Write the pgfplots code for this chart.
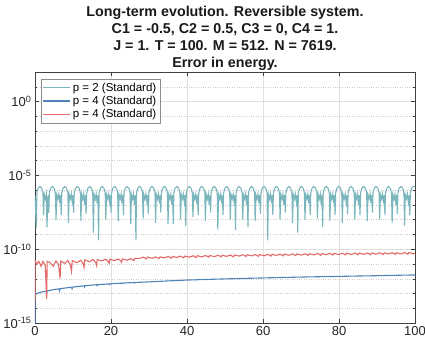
\documentclass[border=0pt]{standalone}
\usepackage{pgfplots}
\pgfplotsset{compat=1.18}
\usepackage{fontspec}
\setmainfont{Liberation Sans}
\definecolor{cteal}{RGB}{122,182,188}
\definecolor{cblue}{RGB}{78,132,186}
\definecolor{cred}{RGB}{228,106,106}
\begin{document}
\begin{tikzpicture}
\begin{axis}[
 scale only axis, width=380pt, height=251pt,
 ymode=log, xmin=0, xmax=100, ymin=1e-15, ymax=1e2,
 xtick={0,20,40,60,80,100},
 ytick={1e-15,1e-10,1e-5,1},
 yticklabels={10\textsuperscript{-15},10\textsuperscript{-10},10\textsuperscript{-5},10\textsuperscript{0}},
 minor ytick={1e-14,1e-13,1e-12,1e-11,1e-9,1e-8,1e-7,1e-6,1e-4,1e-3,1e-2,1e-1,1e1},
 grid=both,
 major grid style={solid, black!12},
 minor grid style={dotted, black!20},
 axis line style={black!75}, every tick/.style={black!75},
 tick align=inside, major tick length=4pt, minor tick length=2.5pt,
 ticklabel style={font=\fontsize{13}{15}\selectfont, text=black!85},
 /pgf/number format/assume math mode=true,
 title={Long-term evolution. Reversible system.\\C1 = -0.5, C2 = 0.5, C3 = 0, C4 = 1.\\J = 1. T = 100. M = 512. N = 7619.\\Error in energy.},
 title style={align=center, font=\bfseries\fontsize{14.3}{17}\selectfont, text=black!90, yshift=-8pt},
 legend style={at={(0.016,0.972)}, anchor=north west, draw=black!45, fill=white,
   font=\fontsize{11.5}{13}\selectfont, inner sep=1.5pt, row sep=-0.5pt},
 legend cell align=left,
 legend image code/.code={\draw[#1] (0pt,0pt) -- (27pt,0pt);},
]
\addplot[cteal, line width=1.1pt] table {
x y
0 4e-7
0.35 3e-9
0.50 6.3e-7
0.80 1.3e-6
1.30 1.8e-6
1.80 1.3e-6
2.10 6.3e-7
2.25 2e-8
2.45 5e-7
2.75 2.5e-7
3.00 5.5e-7
3.15 3e-9
3.45 4.5e-7
3.63 3e-8
3.78 6.3e-7
4.08 1.3e-6
4.58 1.8e-6
5.08 1.3e-6
5.38 6.3e-7
5.53 1e-8
5.73 5e-7
6.03 2.5e-7
6.28 5.5e-7
6.53 1.3e-7
6.73 4.5e-7
6.90 2e-8
7.05 6.3e-7
7.35 1.3e-6
7.85 1.8e-6
8.35 1.3e-6
8.65 6.3e-7
8.80 6e-9
9.00 5e-7
9.30 2.5e-7
9.55 5.5e-7
9.80 1.6e-7
10.00 4.5e-7
10.18 3e-8
10.33 6.3e-7
10.63 1.3e-6
11.13 1.8e-6
11.63 1.3e-6
11.93 6.3e-7
12.08 8e-9
12.28 5e-7
12.58 2.5e-7
12.83 5.5e-7
13.08 1e-7
13.28 4.5e-7
13.45 2.5e-8
13.60 6.3e-7
13.90 1.3e-6
14.40 1.8e-6
14.90 1.3e-6
15.20 6.3e-7
15.35 1.3e-9
15.55 5e-7
15.85 2.5e-7
16.10 5.5e-7
16.35 1.3e-7
16.55 4.5e-7
16.73 4e-10
16.88 6.3e-7
17.18 1.3e-6
17.68 1.8e-6
18.18 1.3e-6
18.48 6.3e-7
18.63 1e-8
18.83 5e-7
19.13 2.5e-7
19.38 5.5e-7
19.63 1.6e-7
19.83 4.5e-7
20.01 3e-8
20.16 6.3e-7
20.46 1.3e-6
20.96 1.8e-6
21.46 1.3e-6
21.76 6.3e-7
21.91 8e-9
22.11 5e-7
22.41 2.5e-7
22.66 5.5e-7
22.91 1.3e-7
23.11 4.5e-7
23.28 2e-8
23.43 6.3e-7
23.73 1.3e-6
24.23 1.8e-6
24.73 1.3e-6
25.03 6.3e-7
25.18 5e-9
25.38 5e-7
25.68 2.5e-7
25.93 5.5e-7
26.18 1e-7
26.38 4.5e-7
26.56 4e-10
26.71 6.3e-7
27.01 1.3e-6
27.51 1.8e-6
28.01 1.3e-6
28.31 6.3e-7
28.46 1.2e-8
28.66 5e-7
28.96 2.5e-7
29.21 5.5e-7
29.46 1.6e-7
29.66 4.5e-7
29.83 2.5e-8
29.98 6.3e-7
30.28 1.3e-6
30.78 1.8e-6
31.28 1.3e-6
31.58 6.3e-7
31.73 6e-9
31.93 5e-7
32.23 2.5e-7
32.48 5.5e-7
32.73 1.3e-7
32.93 4.5e-7
33.11 3e-8
33.26 6.3e-7
33.56 1.3e-6
34.06 1.8e-6
34.56 1.3e-6
34.86 6.3e-7
35.01 5e-9
35.21 5e-7
35.51 2.5e-7
35.76 5.5e-7
36.01 1e-7
36.21 4.5e-7
36.39 5e-9
36.54 6.3e-7
36.84 1.3e-6
37.34 1.8e-6
37.84 1.3e-6
38.14 6.3e-7
38.29 1e-8
38.49 5e-7
38.79 2.5e-7
39.04 5.5e-7
39.29 1.6e-7
39.49 4.5e-7
39.66 4e-9
39.81 6.3e-7
40.11 1.3e-6
40.61 1.8e-6
41.11 1.3e-6
41.41 6.3e-7
41.56 1.5e-8
41.76 5e-7
42.06 2.5e-7
42.31 5.5e-7
42.56 1.3e-7
42.76 4.5e-7
42.94 2e-8
43.09 6.3e-7
43.39 1.3e-6
43.89 1.8e-6
44.39 1.3e-6
44.69 6.3e-7
44.84 8e-9
45.04 5e-7
45.34 2.5e-7
45.59 5.5e-7
45.84 1e-7
46.04 4.5e-7
46.21 3e-8
46.36 6.3e-7
46.66 1.3e-6
47.16 1.8e-6
47.66 1.3e-6
47.96 6.3e-7
48.11 2.2e-9
48.31 5e-7
48.61 2.5e-7
48.86 5.5e-7
49.11 1.3e-7
49.31 4.5e-7
49.49 2e-8
49.64 6.3e-7
49.94 1.3e-6
50.44 1.8e-6
50.94 1.3e-6
51.24 6.3e-7
51.39 1e-8
51.59 5e-7
51.89 2.5e-7
52.14 5.5e-7
52.39 1.6e-7
52.59 4.5e-7
52.77 2e-9
52.92 6.3e-7
53.22 1.3e-6
53.72 1.8e-6
54.22 1.3e-6
54.52 6.3e-7
54.67 1e-8
54.87 5e-7
55.17 2.5e-7
55.42 5.5e-7
55.67 1e-7
55.87 4.5e-7
56.04 3.2e-9
56.19 6.3e-7
56.49 1.3e-6
56.99 1.8e-6
57.49 1.3e-6
57.79 6.3e-7
57.94 8e-9
58.14 5e-7
58.44 2.5e-7
58.69 5.5e-7
58.94 1.3e-7
59.14 4.5e-7
59.32 2.5e-8
59.47 6.3e-7
59.77 1.3e-6
60.27 1.8e-6
60.77 1.3e-6
61.07 6.3e-7
61.22 4e-10
61.42 5e-7
61.72 2.5e-7
61.97 5.5e-7
62.22 1.3e-7
62.42 4.5e-7
62.59 2e-8
62.74 6.3e-7
63.04 1.3e-6
63.54 1.8e-6
64.04 1.3e-6
64.34 6.3e-7
64.49 1e-8
64.69 5e-7
64.99 2.5e-7
65.24 5.5e-7
65.49 1e-7
65.69 4.5e-7
65.87 3e-8
66.02 6.3e-7
66.32 1.3e-6
66.82 1.8e-6
67.32 1.3e-6
67.62 6.3e-7
67.77 6e-9
67.97 5e-7
68.27 2.5e-7
68.52 5.5e-7
68.77 1.6e-7
68.97 4.5e-7
69.15 1.3e-9
69.30 6.3e-7
69.60 1.3e-6
70.10 1.8e-6
70.60 1.3e-6
70.90 6.3e-7
71.05 1e-8
71.25 5e-7
71.55 2.5e-7
71.80 5.5e-7
72.05 1.3e-7
72.25 4.5e-7
72.42 2e-8
72.57 6.3e-7
72.87 1.3e-6
73.37 1.8e-6
73.87 1.3e-6
74.17 6.3e-7
74.32 1.2e-8
74.52 5e-7
74.82 2.5e-7
75.07 5.5e-7
75.32 1e-7
75.52 4.5e-7
75.70 3.3e-9
75.85 6.3e-7
76.15 1.3e-6
76.65 1.8e-6
77.15 1.3e-6
77.45 6.3e-7
77.60 8e-9
77.80 5e-7
78.10 2.5e-7
78.35 5.5e-7
78.60 1.3e-7
78.80 4.5e-7
78.97 2e-8
79.12 6.3e-7
79.42 1.3e-6
79.92 1.8e-6
80.42 1.3e-6
80.72 6.3e-7
80.87 6e-9
81.07 5e-7
81.37 2.5e-7
81.62 5.5e-7
81.87 1.6e-7
82.07 4.5e-7
82.25 2.5e-8
82.40 6.3e-7
82.70 1.3e-6
83.20 1.8e-6
83.70 1.3e-6
84.00 6.3e-7
84.15 1e-8
84.35 5e-7
84.65 2.5e-7
84.90 5.5e-7
85.15 1e-7
85.35 4.5e-7
85.53 2e-8
85.68 6.3e-7
85.98 1.3e-6
86.48 1.8e-6
86.98 1.3e-6
87.28 6.3e-7
87.43 8e-9
87.63 5e-7
87.93 2.5e-7
88.18 5.5e-7
88.43 1.3e-7
88.63 4.5e-7
88.80 3e-8
88.95 6.3e-7
89.25 1.3e-6
89.75 1.8e-6
90.25 1.3e-6
90.55 6.3e-7
90.70 1e-8
90.90 5e-7
91.20 2.5e-7
91.45 5.5e-7
91.70 1.3e-7
91.90 4.5e-7
92.08 2e-8
92.23 6.3e-7
92.53 1.3e-6
93.03 1.8e-6
93.53 1.3e-6
93.83 6.3e-7
93.98 6e-9
94.18 5e-7
94.48 2.5e-7
94.73 5.5e-7
94.98 1e-7
95.18 4.5e-7
95.35 2.5e-8
95.50 6.3e-7
95.80 1.3e-6
96.30 1.8e-6
96.80 1.3e-6
97.10 6.3e-7
97.25 4e-9
97.45 5e-7
97.75 2.5e-7
98.00 5.5e-7
98.25 1.6e-7
98.45 4.5e-7
98.63 2e-8
98.78 6.3e-7
99.08 1.3e-6
99.58 1.8e-6
100 1.7e-6
};
\addlegendentry{p = 2 (Standard)}
\addplot[cblue, line width=1.1pt] table {
x y
0 1e-15
0.02 3.4e-14
0.1 8e-14
0.3 9.5e-14
1 1.1e-13
2 1.3e-13
3 1.45e-13
3.1 1.2e-13
3.25 1.5e-13
5 1.85e-13
6.3 2.05e-13
6.45 1.5e-13
6.6 2.1e-13
8 2.35e-13
9.6 2.65e-13
9.75 2.1e-13
9.9 2.7e-13
11.5 3e-13
12.9 3.3e-13
13.05 2.75e-13
13.2 3.35e-13
15 3.7e-13
16.2 3.9e-13
16.35 3.4e-13
16.5 3.95e-13
18 4.2e-13
19.5 4.45e-13
19.6 4e-13
19.75 4.5e-13
22.8 5e-13
22.9 4.6e-13
23.05 5.05e-13
26 5.5e-13
26.15 5.1e-13
26.3 5.55e-13
30 6.1e-13
35 7.1e-13
40 8.1e-13
45 8.9e-13
50 9.7e-13
55 1.05e-12
60 1.13e-12
65 1.21e-12
70 1.29e-12
75 1.37e-12
80 1.44e-12
85 1.52e-12
90 1.6e-12
95 1.7e-12
100 1.8e-12
};
\addlegendentry{p = 4 (Standard)}
\addplot[cred, line width=1.1pt] table {
x y
0 3e-14
0.05 1.6e-11
0.5 1e-11
1.0 1.5e-11
1.6 7e-12
2.1 1.5e-11
2.7 8e-12
3.07 4.4e-14
3.2 1.5e-11
4.0 1.2e-11
4.8 7e-12
5.5 1.6e-11
6.2 9e-12
6.6 1.07e-12
6.8 1.6e-11
7.8 1.1e-11
8.6 1.7e-11
9.3 9e-12
9.6 3.2e-12
9.8 1.7e-11
11.0 1.2e-11
12.0 1.8e-11
12.7 1e-11
12.9 5.9e-12
13.1 1.9e-11
14.3 1.4e-11
15.3 2e-11
16.0 1.2e-11
16.2 8e-12
16.4 2e-11
17.6 1.6e-11
18.6 2.1e-11
19.3 1.4e-11
19.5 1.1e-11
19.7 2.1e-11
20.9 1.7e-11
21.9 2.2e-11
22.6 1.6e-11
22.8 1.3e-11
23.0 2.2e-11
24.2 1.8e-11
25.2 2.3e-11
26.0 1.7e-11
26.3 2.4e-11
27.5 2.35e-11
28.5 2.9e-11
29.3 2.2e-11
29.6 2.9e-11
30.8 2.45e-11
31.8 3.0e-11
32.6 2.3e-11
32.9 3.0e-11
34.1 2.6e-11
35.1 3.25e-11
35.9 2.45e-11
36.2 3.25e-11
37.3 2.75e-11
38.3 3.4e-11
39.1 2.6e-11
39.4 3.4e-11
40.6 2.9e-11
41.6 3.6e-11
42.4 2.7e-11
42.7 3.6e-11
43.9 3.0e-11
44.9 3.75e-11
45.7 2.85e-11
46.0 3.75e-11
47.2 3.15e-11
48.2 3.9e-11
49.0 3.0e-11
49.3 3.9e-11
50.4 3.25e-11
51.4 4.0e-11
52.2 3.05e-11
52.5 4.0e-11
53.7 3.4e-11
54.7 4.2e-11
55.5 3.2e-11
55.8 4.2e-11
57.0 3.5e-11
58.0 4.35e-11
58.8 3.3e-11
59.1 4.35e-11
60.3 3.6e-11
61.3 4.5e-11
62.1 3.4e-11
62.4 4.5e-11
63.5 3.75e-11
64.5 4.65e-11
65.3 3.5e-11
65.6 4.65e-11
66.8 3.85e-11
67.8 4.8e-11
68.6 3.65e-11
68.9 4.8e-11
70.1 3.95e-11
71.1 4.9e-11
71.9 3.75e-11
72.2 4.9e-11
73.4 4.1e-11
74.4 5.1e-11
75.2 3.85e-11
75.5 5.1e-11
76.6 4.2e-11
77.6 5.25e-11
78.4 4.0e-11
78.7 5.25e-11
79.9 4.3e-11
80.9 5.4e-11
81.7 4.1e-11
82.0 5.4e-11
83.2 4.4e-11
84.2 5.5e-11
85.0 4.15e-11
85.3 5.5e-11
86.5 4.5e-11
87.5 5.6e-11
88.3 4.25e-11
88.6 5.6e-11
89.8 4.6e-11
90.8 5.7e-11
91.6 4.35e-11
91.9 5.7e-11
93.0 4.7e-11
94.0 5.8e-11
94.8 4.4e-11
95.1 5.8e-11
96.3 4.75e-11
97.3 5.95e-11
98.1 4.5e-11
98.4 5.95e-11
99.6 4.85e-11
100 5.4e-11
};
\addlegendentry{p = 4 (Standard)}
\end{axis}
\pgfresetboundingbox
\path[use as bounding box] ([xshift=-35pt,yshift=-20pt]current axis.south west) rectangle ([xshift=10pt,yshift=72pt]current axis.north east);
\end{tikzpicture}
\end{document}
